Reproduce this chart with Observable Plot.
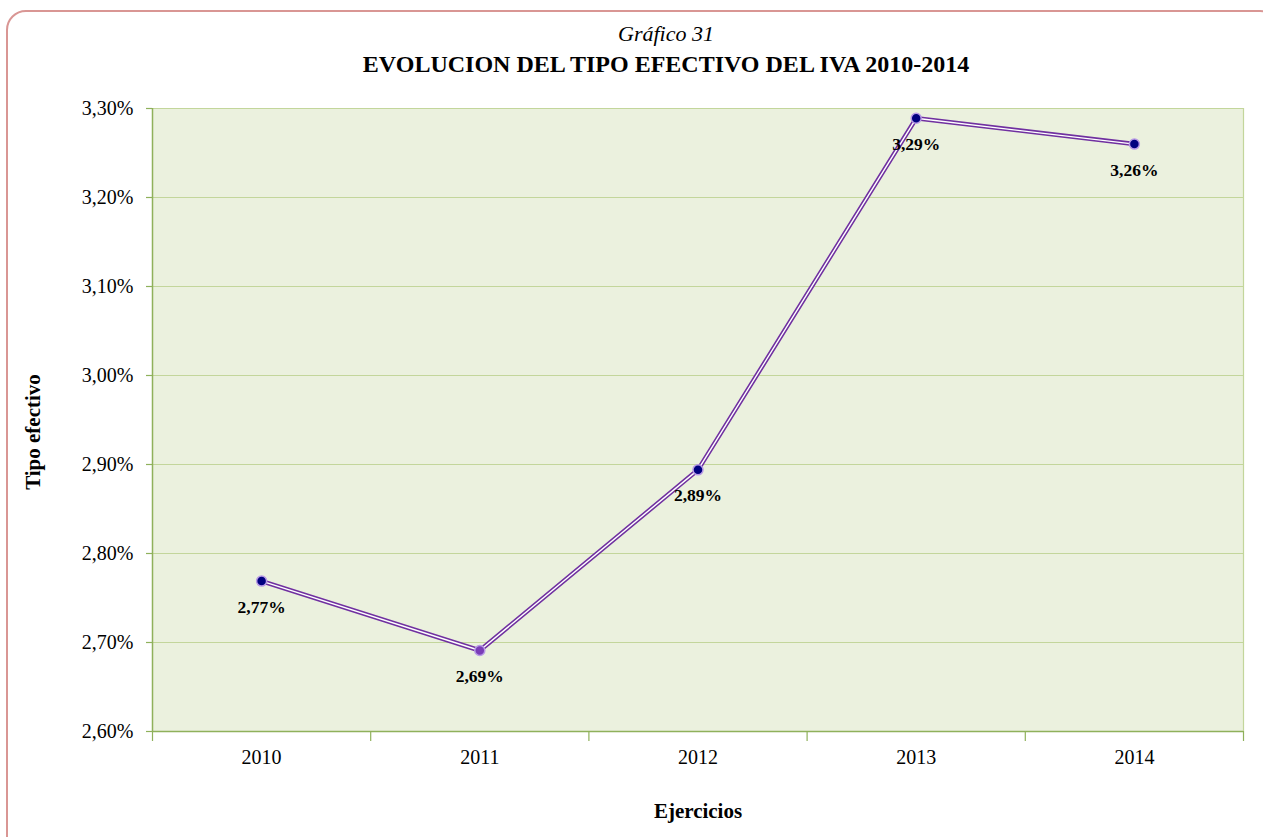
<!DOCTYPE html>
<html><head><meta charset="utf-8">
<script src="https://cdn.jsdelivr.net/npm/d3@7"></script>
<script src="https://cdn.jsdelivr.net/npm/@observablehq/plot@0.6"></script>
<style>
body{margin:0;background:#fff;}
#wrap{position:relative;width:1263px;height:837px;overflow:hidden;font-family:"Liberation Serif","Times New Roman",serif;color:#000;}
#border{position:absolute;left:6px;top:10px;width:1274px;height:846px;border:2.5px solid #d99694;border-radius:20px;box-sizing:border-box;}
#title{position:absolute;left:0;top:0;width:1332px;height:80px;text-align:center;}
#t1{position:absolute;top:21px;width:100%;font-style:italic;font-size:22px;line-height:26px;}
#t2{position:absolute;top:52px;width:100%;font-weight:bold;font-size:24px;line-height:24px;}
#chart{position:absolute;left:0;top:80px;}
</style></head>
<body>
<div id="wrap">
  <div id="border"></div>
  <div id="title"><div id="t1">Gráfico 31</div><div id="t2">EVOLUCION DEL TIPO EFECTIVO DEL IVA 2010-2014</div></div>
  <div id="chart"></div>
</div>
<script>
const years = [2010, 2011, 2012, 2013, 2014];
const rates = [2.769, 2.691, 2.894, 3.289, 3.260];
const yTicks = [2.6, 2.7, 2.8, 2.9, 3.0, 3.1, 3.2, 3.3];
const xBounds = [2009.5, 2010.5, 2011.5, 2012.5, 2013.5, 2014.5];
const data = years.map((y, i) => ({year: y, rate: rates[i]}));
const fmt = v => v.toFixed(2).replace(".", ",") + "%";
const axisGreen = "#8fb15b";
const gridGreen = "#c3d69b";

const chart = Plot.plot({
  width: 1263, height: 757,
  marginLeft: 152, marginRight: 20, marginTop: 28, marginBottom: 106,
  style: {fontFamily: "'Liberation Serif','Times New Roman',serif", fontSize: "20px", color: "#000", background: "transparent"},
  x: {domain: [2009.5, 2014.5], axis: null},
  y: {domain: [2.6, 3.3], axis: null},
  marks: [
    Plot.frame({fill: "#ebf1de", stroke: null}),
    Plot.gridY(yTicks, {stroke: gridGreen, strokeOpacity: 1, strokeWidth: 1.2}),
    Plot.ruleX([2014.5], {stroke: gridGreen, strokeWidth: 1.2}),
    Plot.ruleX([2009.5], {stroke: axisGreen, strokeWidth: 1.5}),
    Plot.ruleY([2.6], {stroke: axisGreen, strokeWidth: 1.5}),
    Plot.axisY(yTicks, {tickFormat: fmt, tickSize: 6, tickPadding: 13, stroke: axisGreen, strokeWidth: 1.2, label: null}),
    Plot.axisX(xBounds, {tickSize: 10, tickFormat: () => "", stroke: axisGreen, strokeWidth: 1.2, label: null}),
    Plot.axisX(years, {tickSize: 0, tickPadding: 18, tickFormat: d => String(d), label: null}),
    Plot.text(["Tipo efectivo"], {frameAnchor: "left", textAnchor: "middle", lineAnchor: "middle", dx: -119, dy: 12, rotate: -90, fontWeight: "bold", fontSize: 21}),
    Plot.text(["Ejercicios"], {frameAnchor: "bottom", lineAnchor: "middle", dy: 80, fontWeight: "bold", fontSize: 21}),
    Plot.line(data, {x: "year", y: "rate", stroke: "#7030a0", strokeWidth: 4.5}),
    Plot.line(data, {x: "year", y: "rate", stroke: "#ffffff", strokeWidth: 1.4}),
    Plot.dot(data, {filter: d => d.year !== 2011, x: "year", y: "rate", r: 5, fill: "#000080", stroke: "#b89ae6", strokeWidth: 1.5}),
    Plot.dot(data, {filter: d => d.year === 2011, x: "year", y: "rate", r: 5, fill: "#7a3db8", stroke: "#b89ae6", strokeWidth: 1.5}),
    Plot.text(data, {x: "year", y: "rate", text: d => fmt(d.rate), dy: 26, fontWeight: "bold", fontSize: 17.5})
  ]
});
document.getElementById("chart").appendChild(chart);
</script>
</body></html>
